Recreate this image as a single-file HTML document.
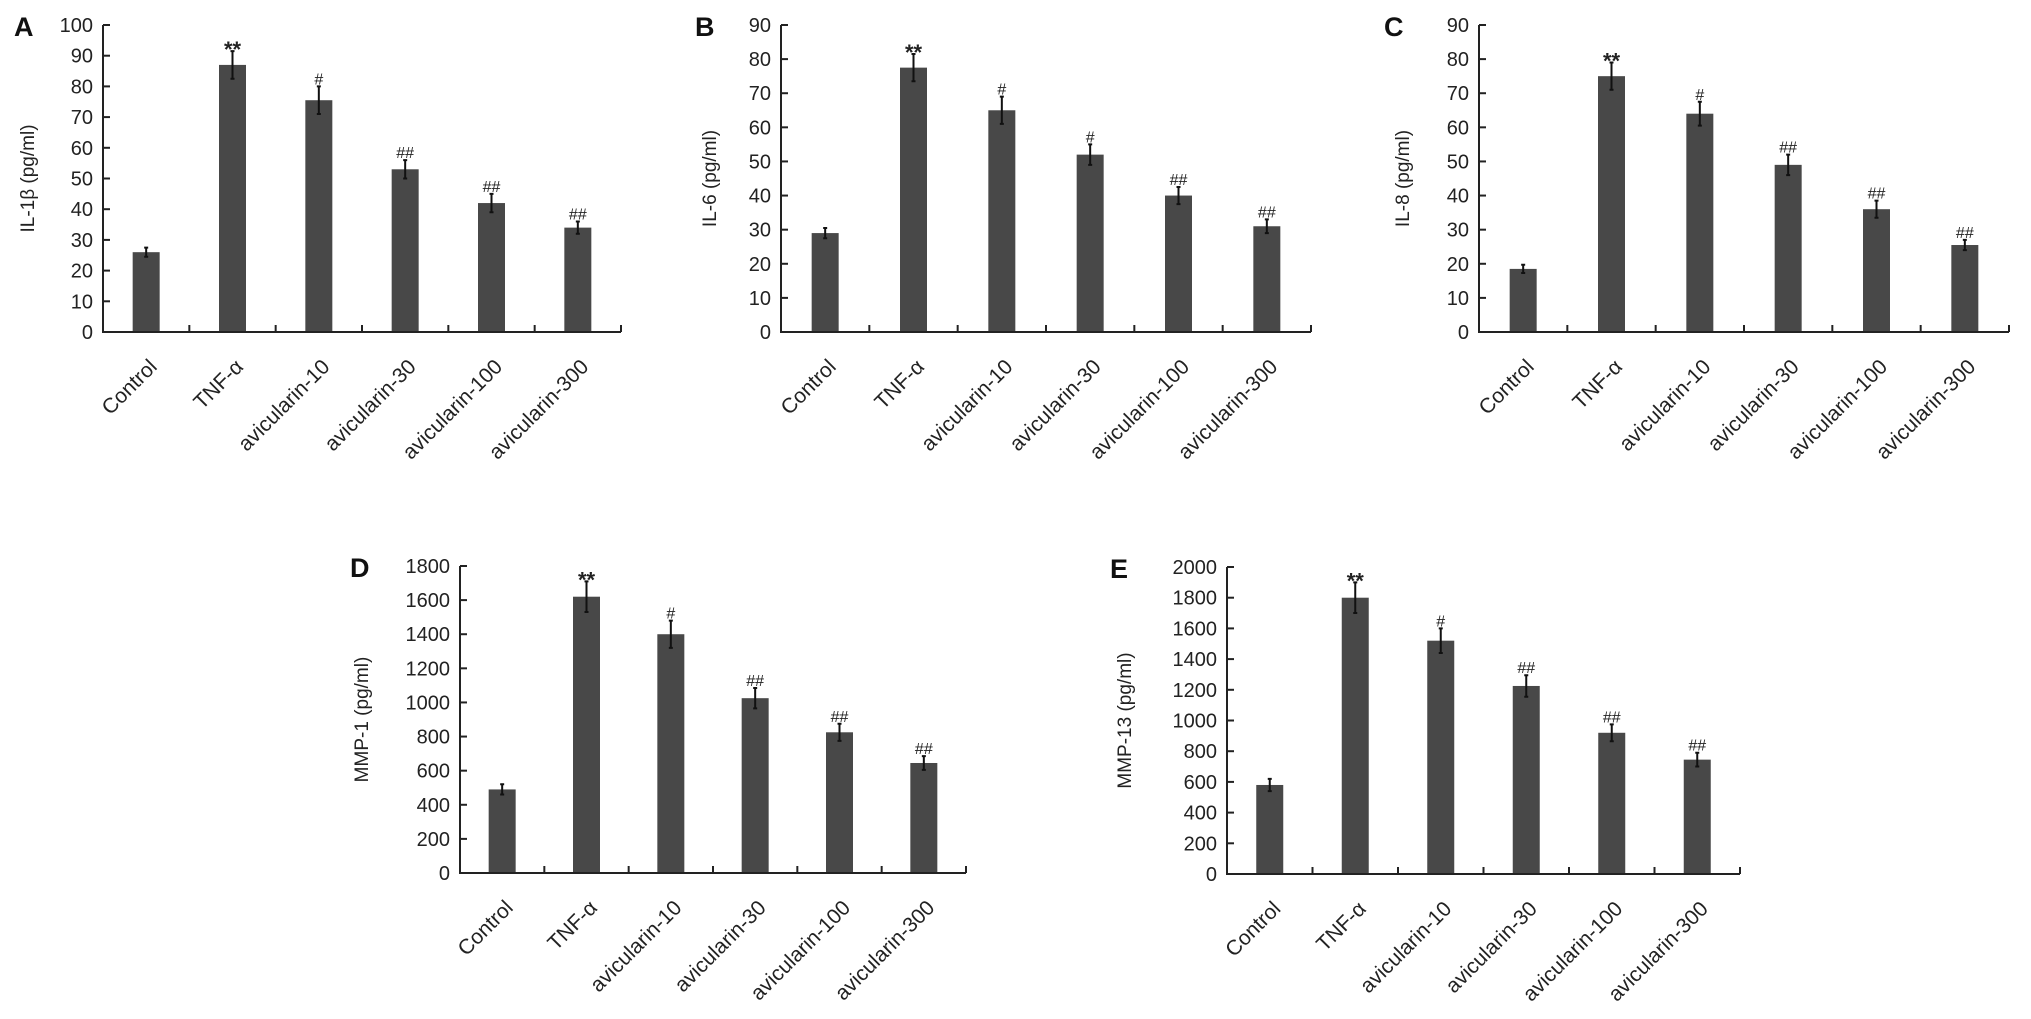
<!DOCTYPE html>
<html><head><meta charset="utf-8">
<style>
html,body{margin:0;padding:0;background:#fff;}
svg{display:block;font-family:"Liberation Sans",Arial,sans-serif;}
</style></head>
<body>
<svg id="fig" width="2031" height="1019" viewBox="0 0 2031 1019" xmlns="http://www.w3.org/2000/svg"></svg>
<script>
const categories = ["Control","TNF-α","avicularin-10","avicularin-30","avicularin-100","avicularin-300"];
const ilbValues = [26,87,75.5,53,42,34];
const ilbErrors = [1.5,4.5,4.5,3,3,2];
const ilbMarks = ["","**","#","##","##","##"];
const il6Values = [29,77.5,65,52,40,31];
const il6Errors = [1.5,4,4,3,2.5,2];
const il6Marks = ["","**","#","#","##","##"];
const il8Values = [18.5,75,64,49,36,25.5];
const il8Errors = [1.2,4,3.5,3,2.5,1.5];
const il8Marks = ["","**","#","##","##","##"];
const mmp1Values = [490,1620,1400,1025,825,645];
const mmp1Errors = [30,90,80,60,50,40];
const mmp1Marks = ["","**","#","##","##","##"];
const mmp13Values = [580,1800,1520,1225,920,745];
const mmp13Errors = [40,100,80,70,55,45];
const mmp13Marks = ["","**","#","##","##","##"];
const ticks100 = [0,10,20,30,40,50,60,70,80,90,100];
const ticks90 = [0,10,20,30,40,50,60,70,80,90];
const ticks1800 = [0,200,400,600,800,1000,1200,1400,1600,1800];
const ticks2000 = [0,200,400,600,800,1000,1200,1400,1600,1800,2000];

const svg = document.getElementById('fig');
const NS = 'http://www.w3.org/2000/svg';
function mk(tag, attrs, parent){
  const e = document.createElementNS(NS, tag);
  for (const k in attrs) e.setAttribute(k, attrs[k]);
  parent.appendChild(e); return e;
}

function panel(o){
  const g = mk('g', {}, svg);
  
  
  const ymax = o.ticks[o.ticks.length-1];
  const y = v => o.y0 - (v / ymax) * (o.y0 - o.yTop);
  const step = (o.x1 - o.x0) / categories.length;
  const xc = i => o.x0 + step * (i + 0.5);

  const lt = mk('text', {x:o.letterX, y:o.yTop+11, 'font-size':27, 'font-weight':'bold', fill:'#111'}, g);
  lt.textContent = o.letter;
  
  

  const bars = mk('g', {}, g);
  
  
  o.values.forEach((v,i) => {
    const bw = 27;
    const r = mk('rect', {x:xc(i)-bw/2, y:y(v), width:bw, height:o.y0-y(v), fill:'#484848'}, bars);
    
    
    const e = o.errors[i];
    const eb = mk('path', {d:`M${xc(i)} ${y(v+e)}V${y(v-e)}M${xc(i)-2} ${y(v+e)}H${xc(i)+2}M${xc(i)-2} ${y(v-e)}H${xc(i)+2}`, stroke:'#111', 'stroke-width':2, fill:'none'}, bars);
    
    
    if (o.marks[i]) {
      const star = o.marks[i] === '**';
      const m = mk('text', {x:xc(i), y:y(v+e)+(star?6:-2), 'text-anchor':'middle', 'font-size':star?22:16, fill:'#222', 'font-weight':star?'bold':'normal'}, bars);
      m.textContent = o.marks[i];
      
      
    }
  });

  const ax = mk('g', {stroke:'#222', 'stroke-width':2, fill:'none'}, g);
  
  
  mk('path', {d:`M${o.x0} ${o.yTop}V${o.y0}H${o.x1}`}, ax);
  o.ticks.forEach(t => mk('path', {d:`M${o.x0} ${y(t)}h7`}, ax));
  for (let i=1;i<=categories.length;i++) mk('path', {d:`M${o.x0+step*i} ${o.y0}v-7`}, ax);

  const yl = mk('g', {'font-size':20, fill:'#222', 'text-anchor':'end'}, g);
  
  
  o.ticks.forEach(t => {
    const tx = mk('text', {x:o.x0-10, y:y(t)+7}, yl);
    tx.textContent = t;
  });

  const ty = (o.yTop + o.y0)/2;
  const at = mk('text', {x:o.titleX, y:ty, 'font-size':19, fill:'#222', 'text-anchor':'middle', transform:`rotate(-90 ${o.titleX} ${ty})`}, g);
  at.textContent = o.title;
  
  

  const xl = mk('g', {'font-size':21, fill:'#222', 'text-anchor':'end'}, g);
  
  
  categories.forEach((c,i) => {
    const lx = xc(i)+12, ly = o.y0+36;
    const tx = mk('text', {x:lx, y:ly, transform:`rotate(-45 ${lx} ${ly})`}, xl);
    tx.textContent = c;
  });
}

panel({letter:'A', letterX:14, x0:103, x1:621, y0:332, yTop:25, ticks:ticks100, values:ilbValues, errors:ilbErrors, marks:ilbMarks, title:'IL-1β (pg/ml)', titleX:34});
panel({letter:'B', letterX:695, x0:781, x1:1311, y0:332, yTop:25, ticks:ticks90, values:il6Values, errors:il6Errors, marks:il6Marks, title:'IL-6 (pg/ml)', titleX:716});
panel({letter:'C', letterX:1384, x0:1479, x1:2009, y0:332, yTop:25, ticks:ticks90, values:il8Values, errors:il8Errors, marks:il8Marks, title:'IL-8 (pg/ml)', titleX:1409});
panel({letter:'D', letterX:350, x0:460, x1:966, y0:873, yTop:566, ticks:ticks1800, values:mmp1Values, errors:mmp1Errors, marks:mmp1Marks, title:'MMP-1 (pg/ml)', titleX:368});
panel({letter:'E', letterX:1110, x0:1227, x1:1740, y0:874, yTop:567, ticks:ticks2000, values:mmp13Values, errors:mmp13Errors, marks:mmp13Marks, title:'MMP-13 (pg/ml)', titleX:1131});
</script>
</body></html>
